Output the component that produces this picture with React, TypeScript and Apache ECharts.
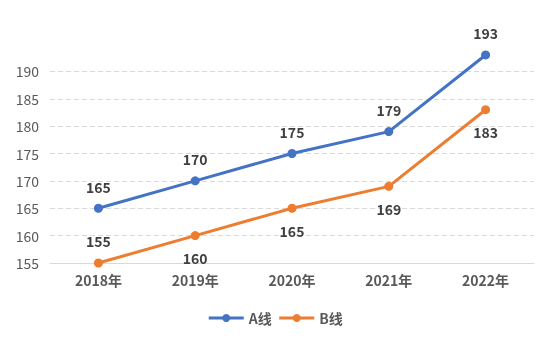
import React, { useEffect, useRef } from "react";
import * as echarts from "echarts";

const categories = ["2018年", "2019年", "2020年", "2021年", "2022年"];
const seriesA = [165, 170, 175, 179, 193];
const seriesB = [155, 160, 165, 169, 183];
const labelPosB = ["top", "bottom", "bottom", "bottom", "bottom"];

export default function App() {
  const ref = useRef<HTMLDivElement>(null);
  useEffect(() => {
    const chart = echarts.init(ref.current!, null, { renderer: "svg" });
    const font = "'Noto Sans CJK SC', 'Open Sans', sans-serif";
    chart.setOption({
      animation: false,
      textStyle: { fontFamily: font },
      grid: { left: 50, right: 16, top: 44, bottom: 97 },
      legend: {
        top: 306,
        left: "center",
        itemWidth: 35,
        itemHeight: 10,
        itemGap: 6,
        lineStyle: { width: 3 },
        textStyle: { fontSize: 14, fontWeight: "bold", color: "#595959", fontFamily: font },
        data: ["A线", "B线"],
      },
      xAxis: {
        type: "category",
        data: categories,
        axisLine: { lineStyle: { color: "#d9d9d9", width: 1 } },
        axisTick: { show: false },
        axisLabel: { color: "#595959", fontSize: 14, fontWeight: "bold", margin: 10 },
      },
      yAxis: {
        type: "value",
        min: 155,
        max: 195,
        interval: 5,
        axisLine: { show: false },
        axisTick: { show: false },
        axisLabel: {
          color: "#595959",
          fontSize: 14,
          margin: 11,
          formatter: (v: number) => (v > 190 ? "" : String(v)),
        },
        splitLine: {
          lineStyle: {
            type: [5, 3],
            color: ["#d9d9d9", "#d9d9d9", "#d9d9d9", "#d9d9d9", "#d9d9d9", "#d9d9d9", "#d9d9d9", "#d9d9d9", "transparent"],
          },
        },
      },
      series: [
        {
          name: "A线",
          type: "line",
          data: seriesA,
          symbol: "circle",
          symbolSize: 9,
          color: "#4472C4",
          lineStyle: { width: 3 },
          label: {
            show: true,
            position: "top",
            distance: 10,
            fontSize: 14,
            fontWeight: "bold",
            color: "#404040",
          },
        },
        {
          name: "B线",
          type: "line",
          data: seriesB.map((v, i) => ({
            value: v,
            label: { position: labelPosB[i] },
          })),
          symbol: "circle",
          symbolSize: 9,
          color: "#ED7D31",
          lineStyle: { width: 3 },
          label: {
            show: true,
            distance: 11,
            fontSize: 14,
            fontWeight: "bold",
            color: "#404040",
          },
        },
      ],
    });
    return () => chart.dispose();
  }, []);
  return (
    <div
      ref={ref}
      style={{ position: "fixed", left: 0, top: 0, width: 550, height: 360 }}
    />
  );
}
